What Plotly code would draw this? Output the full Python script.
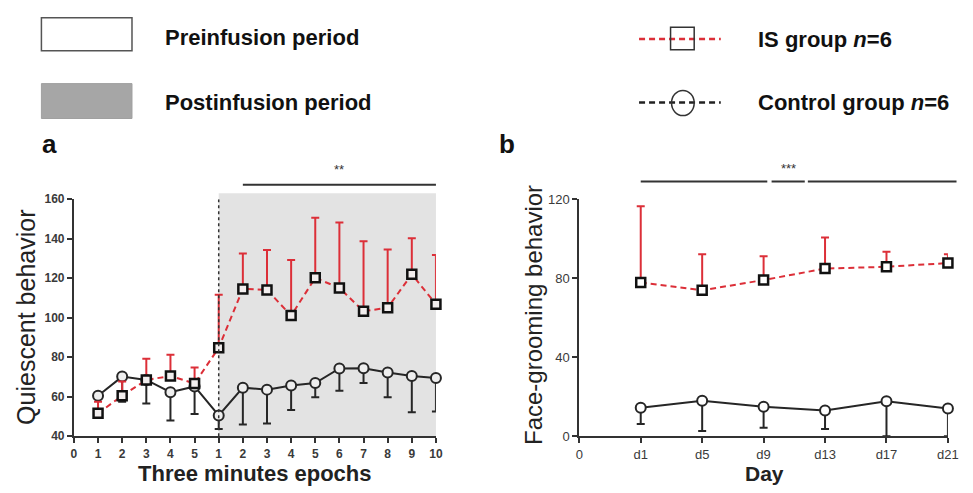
import plotly.graph_objects as go

# ---------------- data ----------------
epoch_pos = list(range(1, 16))
epoch_ticks = list(range(0, 16))
epoch_labels = ["0", "1", "2", "3", "4", "5", "1", "2", "3", "4", "5", "6", "7", "8", "9", "10"]

is_quiescent = [51.6, 60.5, 68.5, 70.5, 66.7, 84.8, 114.6, 114.1, 101.1, 120.2, 115.1, 103.3, 105.1, 122.0, 106.9]
is_quiescent_sd = [5.9, 7.2, 10.8, 10.8, 8.1, 26.8, 17.9, 20.2, 28.2, 30.5, 33.1, 35.4, 29.5, 18.3, 24.9]
ctl_quiescent = [60.5, 70.2, 68.5, 62.3, 65.2, 50.5, 64.6, 63.6, 65.7, 66.9, 74.3, 74.4, 72.3, 70.5, 69.5]
ctl_quiescent_sd = [1.0, 12.7, 11.9, 14.3, 13.9, 6.9, 18.7, 17.2, 12.4, 7.2, 11.3, 7.5, 12.6, 18.4, 17.0]

day_pos = [1, 2, 3, 4, 5, 6]
day_ticks = [0, 1, 2, 3, 4, 5, 6]
day_labels = ["0", "d1", "d5", "d9", "d13", "d17", "d21"]

is_grooming = [77.8, 73.9, 79.1, 84.9, 85.8, 87.7]
is_grooming_sd = [38.7, 18.3, 12.0, 15.8, 7.6, 4.4]
ctl_grooming = [14.4, 18.0, 14.9, 13.0, 17.7, 14.1]
ctl_grooming_sd = [8.2, 15.4, 10.6, 9.4, 17.7, 14.1]

# ---------------- geometry ----------------
W, H = 973, 493
FONT = "Liberation Sans, Arial, sans-serif"
RED = "#dc2f38"
BLK = "#262626"
AX = "#333333"

def px(x):
    return x / W

def py(y):
    return 1 - y / H

xa_dom = [px(71), px(438.7)]
xb_dom = [px(584.3), px(958.7)]
y_dom = [py(442.7), py(198.3)]
xa_rng = [0, 15]
xb_rng = [0, 6]

def ax_paper(v):
    return xa_dom[0] + (v - xa_rng[0]) / (xa_rng[1] - xa_rng[0]) * (xa_dom[1] - xa_dom[0])

def bx_paper(v):
    return xb_dom[0] + (v - xb_rng[0]) / (xb_rng[1] - xb_rng[0]) * (xb_dom[1] - xb_dom[0])

fig = go.Figure()

# Panel a
fig.add_trace(go.Scatter(
    x=epoch_pos, y=ctl_quiescent, mode="lines+markers", xaxis="x", yaxis="y",
    line=dict(color=BLK, width=2),
    marker=dict(symbol="circle", size=10, color="#eeeeee", line=dict(color=BLK, width=2)),
    error_y=dict(type="data", symmetric=False, array=[0] * len(ctl_quiescent_sd),
                 arrayminus=ctl_quiescent_sd, color=BLK, thickness=2, width=4),
    cliponaxis=False, showlegend=False))
fig.add_trace(go.Scatter(
    x=epoch_pos, y=is_quiescent, mode="lines+markers", xaxis="x", yaxis="y",
    line=dict(color=RED, width=2, dash="6px,4px"),
    marker=dict(symbol="square", size=9, color="#f2eeee", line=dict(color="#111111", width=2.5)),
    error_y=dict(type="data", symmetric=False, array=is_quiescent_sd,
                 arrayminus=[0] * len(is_quiescent_sd), color=RED, thickness=2, width=4),
    cliponaxis=False, showlegend=False))

# Panel b
fig.add_trace(go.Scatter(
    x=day_pos, y=ctl_grooming, mode="lines+markers", xaxis="x2", yaxis="y2",
    line=dict(color=BLK, width=2),
    marker=dict(symbol="circle", size=10, color="#ffffff", line=dict(color=BLK, width=2)),
    error_y=dict(type="data", symmetric=False, array=[0] * len(ctl_grooming_sd),
                 arrayminus=ctl_grooming_sd, color=BLK, thickness=2, width=4),
    cliponaxis=False, showlegend=False))
fig.add_trace(go.Scatter(
    x=day_pos, y=is_grooming, mode="lines+markers", xaxis="x2", yaxis="y2",
    line=dict(color=RED, width=2, dash="6px,4px"),
    marker=dict(symbol="square", size=9, color="#ffffff", line=dict(color="#111111", width=2.5)),
    error_y=dict(type="data", symmetric=False, array=is_grooming_sd,
                 arrayminus=[0] * len(is_grooming_sd), color=RED, thickness=2, width=4),
    cliponaxis=False, showlegend=False))

axis_common = dict(showline=True, linecolor=AX, linewidth=2, ticks="outside",
                   tickcolor=AX, tickwidth=2, ticklen=5, showgrid=False, zeroline=False,
                   fixedrange=True)

fig.update_layout(
    width=W, height=H,
    margin=dict(l=0, r=0, t=0, b=0),
    paper_bgcolor="white", plot_bgcolor="rgba(0,0,0,0)",
    font=dict(family=FONT, color=AX),
    xaxis=dict(domain=xa_dom, range=xa_rng, tickvals=epoch_ticks, ticktext=epoch_labels,
               tickfont=dict(size=12, weight="bold", color="#3a3a3a"), anchor="y", **axis_common),
    yaxis=dict(domain=y_dom, range=[40, 160], tickvals=[40, 60, 80, 100, 120, 140, 160],
               tickfont=dict(size=12, weight="bold", color="#3a3a3a"), anchor="x", **axis_common),
    xaxis2=dict(domain=xb_dom, range=xb_rng, tickvals=day_ticks, ticktext=day_labels,
                tickfont=dict(size=13, color="#3a3a3a"), anchor="y2", **axis_common),
    yaxis2=dict(domain=y_dom, range=[0, 120], tickvals=[0, 40, 80, 120],
                tickfont=dict(size=13, color="#3a3a3a"), anchor="x2", **axis_common),
)

shapes = []
# gray postinfusion shading (x from 6 to 15)
shapes.append(dict(type="rect", xref="paper", yref="paper",
                   x0=ax_paper(6), x1=ax_paper(15), y0=y_dom[0], y1=py(192),
                   fillcolor="#e3e3e3", line=dict(width=0), layer="below"))
# dotted vertical line at infusion
shapes.append(dict(type="line", xref="x", yref="y", x0=6, x1=6, y0=40, y1=160,
                   line=dict(color="#333333", width=1.5, dash="dot"), layer="above"))
# significance bar panel a
shapes.append(dict(type="line", xref="paper", yref="paper", x0=ax_paper(7), x1=ax_paper(15),
                   y0=py(183.3), y1=py(183.3), line=dict(color="#333333", width=2)))
# significance bar panel b (with two small gaps)
for a, b in [(1, 3.06), (3.13, 3.67), (3.72, 6.14)]:
    shapes.append(dict(type="line", xref="paper", yref="paper", x0=bx_paper(a), x1=bx_paper(b),
                       y0=py(180), y1=py(180), line=dict(color="#333333", width=2)))

# legend glyphs
shapes.append(dict(type="rect", xref="paper", yref="paper", x0=px(38), x1=px(130), y0=py(45), y1=py(11),
                   fillcolor="white", line=dict(color="#555555", width=1.5)))
shapes.append(dict(type="rect", xref="paper", yref="paper", x0=px(38), x1=px(130), y0=py(115), y1=py(79),
                   fillcolor="#a6a6a6", line=dict(color="#a0a0a0", width=1)))
shapes.append(dict(type="line", xref="paper", yref="paper", x0=px(645), x1=px(728), y0=py(33), y1=py(33),
                   line=dict(color=RED, width=2.5, dash="6px,4px")))
shapes.append(dict(type="rect", xref="paper", yref="paper", x0=px(677), x1=px(701), y0=py(44), y1=py(21),
                   fillcolor="rgba(0,0,0,0)", line=dict(color="#333333", width=1.5)))
shapes.append(dict(type="line", xref="paper", yref="paper", x0=px(645), x1=px(728), y0=py(98.5), y1=py(98.5),
                   line=dict(color="#222222", width=2.5, dash="6px,4px")))
shapes.append(dict(type="circle", xref="paper", yref="paper", x0=px(678), x1=px(701), y0=py(112), y1=py(86),
                   fillcolor="rgba(0,0,0,0)", line=dict(color="#333333", width=1.5)))
fig.update_layout(shapes=shapes)

def ann(text, x, y, size, bold=False, xanchor="center", angle=0, color="#111111"):
    return dict(text=text, x=px(x), y=py(y), xref="paper", yref="paper", showarrow=False,
                xanchor=xanchor, yanchor="middle", textangle=angle,
                font=dict(size=size, family=FONT, color=color, weight="bold" if bold else "normal"))

annotations = [
    ann("Preinfusion period", 161, 31, 22, bold=True, xanchor="left"),
    ann("Postinfusion period", 161, 98, 22, bold=True, xanchor="left"),
    ann("IS group <i>n</i>=6", 764, 34, 22, bold=True, xanchor="left"),
    ann("Control group <i>n</i>=6", 764, 98, 22, bold=True, xanchor="left"),
    ann("a", 46, 141, 26, bold=True),
    ann("b", 511, 141, 26, bold=True),
    ann("**", ax_paper(11) * W, 168, 13, color="#333333"),
    ann("***", bx_paper(3.4) * W, 167, 13, color="#333333"),
    ann("Quiescent behavior", 23, 320, 25, angle=-90, color="#222222"),
    ann("Three minutes epochs", 255, 481, 22, bold=True, color="#222222"),
    ann("Face-grooming behavior", 538, 318, 24, angle=-90, color="#222222"),
    ann("Day", 772, 481, 21, bold=True, color="#222222"),
]
fig.update_layout(annotations=annotations)

fig.write_html("out.html", config={"displayModeBar": False},
               post_script="document.body.style.margin='0';document.body.style.overflow='hidden';")
